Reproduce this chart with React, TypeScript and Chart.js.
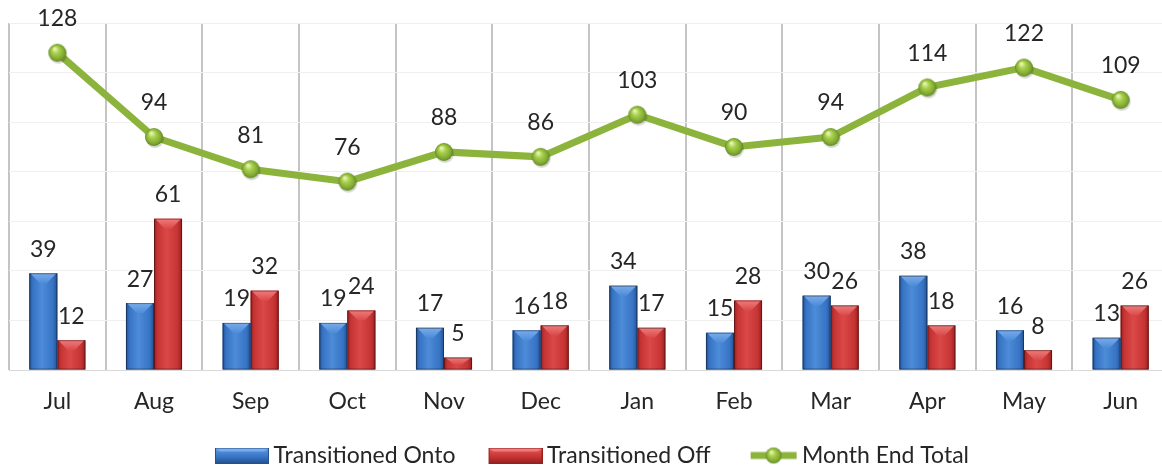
import React, { useEffect, useRef } from "react";
import { Chart, registerables } from "chart.js";

Chart.register(...registerables);

const months = ["Jul", "Aug", "Sep", "Oct", "Nov", "Dec", "Jan", "Feb", "Mar", "Apr", "May", "Jun"];
const transitionedOnto = [39, 27, 19, 19, 17, 16, 34, 15, 30, 38, 16, 13];
const transitionedOff = [12, 61, 32, 24, 5, 18, 17, 28, 26, 18, 8, 26];
const monthEndTotal = [128, 94, 81, 76, 88, 86, 103, 90, 94, 114, 122, 109];
const seriesNames = ["Transitioned Onto", "Transitioned Off", "Month End Total"];
const yMin = 0;
const yMax = 140;
const yStep = 20;

const FONT = "Lato, 'DejaVu Sans', sans-serif";
const FONT_SIZE = 23;
const TEXT = "#262626";

const BLUE = { dark: "#24508f", mid: "#3673c4", light: "#4d8cd8", top: "#7aaceb" };
const RED = { dark: "#952020", mid: "#c53333", light: "#da4848", top: "#ee7c7c" };

const LEGEND_SLOT = 53; // pointStyleWidth
const LEGEND_IMG_W = LEGEND_SLOT + 14;

function makeSphere(r: number, withShadow: boolean) {
  const size = Math.ceil(r * 2 + 6);
  const c = document.createElement("canvas");
  c.width = size;
  c.height = size;
  const g = c.getContext("2d")!;
  const cx = size / 2;
  const cy = size / 2;
  if (withShadow) {
    g.fillStyle = "rgba(0,0,0,0.16)";
    g.beginPath();
    g.arc(cx + 1, cy + 2, r, 0, Math.PI * 2);
    g.fill();
  }
  const grad = g.createRadialGradient(cx - r * 0.3, cy - r * 0.45, r * 0.08, cx, cy, r);
  grad.addColorStop(0, "#e6f5b4");
  grad.addColorStop(0.35, "#a9d04c");
  grad.addColorStop(0.8, "#80a932");
  grad.addColorStop(1, "#5f8722");
  g.fillStyle = grad;
  g.beginPath();
  g.arc(cx, cy, r, 0, Math.PI * 2);
  g.fill();
  return c;
}

function makeLegendBox(col: typeof BLUE) {
  const bw = 54;
  const h = 16;
  const c = document.createElement("canvas");
  c.width = LEGEND_IMG_W;
  c.height = h;
  const g = c.getContext("2d")!;
  g.translate(LEGEND_IMG_W - bw, 0);
  const grad = g.createLinearGradient(0, 0, 0, h);
  grad.addColorStop(0, col.top);
  grad.addColorStop(0.25, col.light);
  grad.addColorStop(0.6, col.mid);
  grad.addColorStop(1, col.dark);
  g.fillStyle = grad;
  g.fillRect(0, 0, bw, h);
  g.fillStyle = col.top;
  g.beginPath();
  g.moveTo(0, 0);
  g.lineTo(bw, 0);
  g.lineTo(bw - 5, 4);
  g.lineTo(5, 4);
  g.closePath();
  g.fill();
  g.strokeStyle = col.dark;
  g.lineWidth = 1;
  g.strokeRect(0.5, 0.5, bw - 1, h - 1);
  return c;
}

function makeLegendLine() {
  const lw = 48;
  const h = 22;
  const c = document.createElement("canvas");
  c.width = LEGEND_IMG_W;
  c.height = h;
  const g = c.getContext("2d")!;
  g.translate(LEGEND_IMG_W - lw, 0);
  g.strokeStyle = "#8cb43c";
  g.lineWidth = 7;
  g.beginPath();
  g.moveTo(1, h / 2);
  g.lineTo(lw - 1, h / 2);
  g.stroke();
  const s = makeSphere(8, false);
  g.drawImage(s, lw / 2 - s.width / 2, h / 2 - s.height / 2);
  return c;
}

const barShade = {
  id: "barShade",
  afterDatasetDraw(chart: any, args: any) {
    const meta = args.meta;
    if (meta.type !== "bar") return;
    const col = args.index === 0 ? BLUE : RED;
    const ctx = chart.ctx;
    ctx.save();
    meta.data.forEach((el: any) => {
      const { x, y, base, width } = el.getProps(["x", "y", "base", "width"], true);
      const l = x - width / 2;
      const r = x + width / 2;
      const t = Math.min(y, base);
      const b = Math.max(y, base);
      const grad = ctx.createLinearGradient(l, 0, r, 0);
      grad.addColorStop(0, col.dark);
      grad.addColorStop(0.12, col.mid);
      grad.addColorStop(0.45, col.light);
      grad.addColorStop(0.85, col.mid);
      grad.addColorStop(1, col.dark);
      ctx.fillStyle = grad;
      ctx.fillRect(l, t, r - l, b - t);
      const bev = Math.min(10, (b - t) * 0.6);
      const vg = ctx.createLinearGradient(0, t, 0, t + bev);
      vg.addColorStop(0, col.top);
      vg.addColorStop(1, col.light);
      ctx.fillStyle = vg;
      ctx.beginPath();
      ctx.moveTo(l + 1, t);
      ctx.lineTo(r - 1, t);
      ctx.lineTo(x + width * 0.12, t + bev);
      ctx.lineTo(x - width * 0.12, t + bev);
      ctx.closePath();
      ctx.fill();
      ctx.strokeStyle = "rgba(0,0,0,0.35)";
      ctx.lineWidth = 1;
      ctx.strokeRect(l + 0.5, t + 0.5, r - l - 1, b - t - 1);
    });
    ctx.restore();
  },
};

const valueLabels = {
  id: "valueLabels",
  afterDatasetsDraw(chart: any) {
    const ctx = chart.ctx;
    ctx.save();
    ctx.font = `${FONT_SIZE}px ${FONT}`;
    ctx.fillStyle = TEXT;
    ctx.textAlign = "center";
    ctx.textBaseline = "middle";
    chart.data.datasets.forEach((ds: any, di: number) => {
      const meta = chart.getDatasetMeta(di);
      const off = meta.type === "line" ? 34 : 24;
      meta.data.forEach((el: any, i: number) => {
        const { x, y } = el.getProps(["x", "y"], true);
        ctx.fillText(String(ds.data[i]), x, y - off);
      });
    });
    ctx.restore();
  },
};

export default function App() {
  const canvasRef = useRef<HTMLCanvasElement | null>(null);

  useEffect(() => {
    if (!canvasRef.current) return;
    const sphere = makeSphere(9, true);
    const legendImgs = [makeLegendBox(BLUE), makeLegendBox(RED), makeLegendLine()];
    const chart = new Chart(canvasRef.current, {
      type: "bar",
      data: {
        labels: months,
        datasets: [
          {
            type: "bar",
            label: seriesNames[0],
            data: transitionedOnto,
            backgroundColor: BLUE.mid,
            categoryPercentage: 0.58,
            barPercentage: 1,
            order: 2,
          },
          {
            type: "bar",
            label: seriesNames[1],
            data: transitionedOff,
            backgroundColor: RED.mid,
            categoryPercentage: 0.58,
            barPercentage: 1,
            order: 2,
          },
          {
            type: "line",
            label: seriesNames[2],
            data: monthEndTotal,
            borderColor: "#8cb43c",
            borderWidth: 7,
            pointStyle: sphere as any,
            pointRadius: 9,
            tension: 0,
            order: 1,
          },
        ] as any,
      },
      options: {
        animation: false,
        responsive: true,
        maintainAspectRatio: false,
        layout: { autoPadding: false, padding: { left: 9, right: 9, top: 23, bottom: -11 } },
        plugins: {
          tooltip: { enabled: false },
          legend: {
            position: "bottom",
            labels: {
              usePointStyle: true,
              pointStyleWidth: LEGEND_SLOT,
              boxHeight: 16,
              padding: 27,
              color: TEXT,
              font: { size: FONT_SIZE, family: FONT },
              generateLabels: (ch: any) =>
                ch.data.datasets.map((ds: any, i: number) => ({
                  text: ds.label,
                  pointStyle: legendImgs[i],
                  datasetIndex: i,
                  hidden: false,
                  fillStyle: "transparent",
                  strokeStyle: "transparent",
                  lineWidth: 0,
                  fontColor: TEXT,
                })),
            },
          },
        },
        scales: {
          x: {
            grid: { display: true, offset: true, color: "#c4c4c4", lineWidth: 2, drawTicks: false },
            border: { display: true, color: "#d9d9d9", width: 1 },
            ticks: { color: TEXT, font: { size: FONT_SIZE, family: FONT }, padding: 18 },
            afterFit: (scale: any) => {
              scale.height = 47;
            },
          },
          y: {
            min: yMin,
            max: yMax,
            ticks: { display: false, stepSize: yStep },
            grid: { color: "#efefef", lineWidth: 1, drawTicks: false },
            border: { display: false },
          },
        },
      },
      plugins: [barShade, valueLabels],
    });
    return () => chart.destroy();
  }, []);

  return (
    <div style={{ position: "fixed", left: 0, top: 0, width: 1162, height: 466, overflow: "hidden", background: "#fff" }}>
      <div style={{ position: "relative", width: 1178, height: 466 }}>
        <canvas ref={canvasRef} />
      </div>
    </div>
  );
}
